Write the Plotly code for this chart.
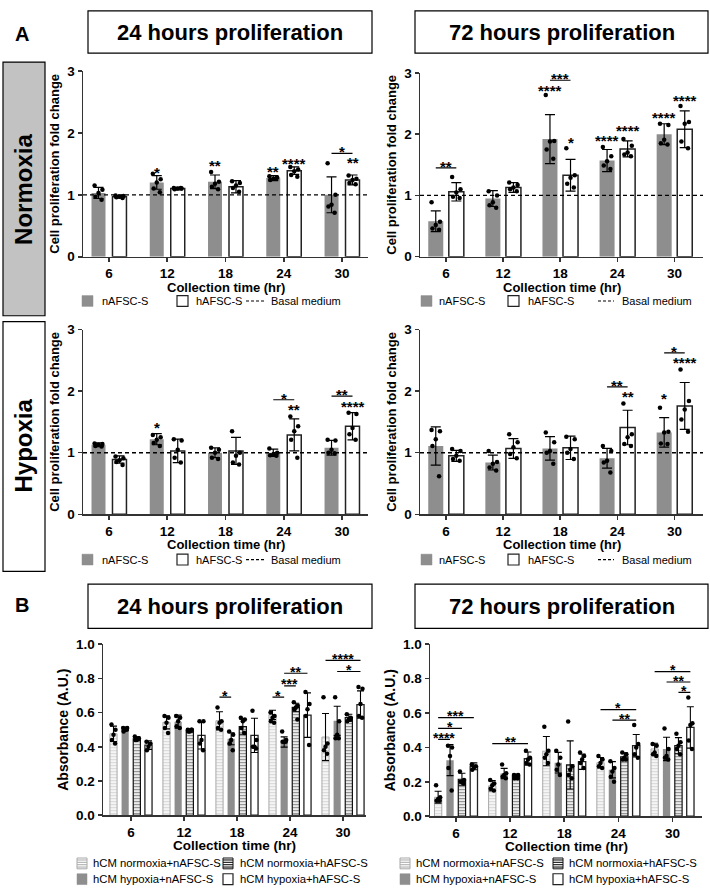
import plotly.graph_objects as go

W, H = 710, 896
FONT = "Liberation Sans, Arial, Helvetica, sans-serif"
AX = "#333333"
GRAY = "#8e8e8e"

categories = ["6", "12", "18", "24", "30"]
basal_medium = 1.0
A_series = ["nAFSC-S", "hAFSC-S"]
B_series = ["hCM normoxia+nAFSC-S", "hCM hypoxia+nAFSC-S",
            "hCM normoxia+hAFSC-S", "hCM hypoxia+hAFSC-S"]

# ---------------- Panel A : Normoxia, 24 h ----------------
norm24_n_mean = [1.03, 1.20, 1.21, 1.27, 1.00]
norm24_n_sd = [0.09, 0.11, 0.11, 0.04, 0.29]
norm24_n_pts = [[1.15, 1.08, 1.03, 0.97, 0.92], [1.34, 1.25, 1.20, 1.10, 1.04],
                [1.37, 1.21, 1.18, 1.13, 1.09], [1.30, 1.28, 1.26, 1.24, 1.27],
                [1.51, 1.00, 0.84, 0.81, 0.71]]
norm24_h_mean = [0.97, 1.10, 1.13, 1.39, 1.24]
norm24_h_sd = [0.02, 0.02, 0.10, 0.06, 0.08]
norm24_h_pts = [[0.99, 0.98, 0.97, 0.96, 0.95], [1.11, 1.10, 1.10, 1.09, 1.11],
                [1.22, 1.19, 1.15, 1.11, 1.05], [1.45, 1.41, 1.38, 1.32, 1.29],
                [1.31, 1.26, 1.24, 1.19, 1.17]]
norm24_stars = [(0, 1, 1.41, "*"), (0, 2, 1.52, "**"), (0, 3, 1.43, "**"),
                (1, 3, 1.56, "****"), (1, 4, 1.57, "**")]
norm24_brackets = [(4, 0, 1, 1.67, "*")]

# ---------------- Panel A : Normoxia, 72 h ----------------
norm72_n_mean = [0.58, 0.95, 1.92, 1.57, 2.00]
norm72_n_sd = [0.17, 0.13, 0.40, 0.18, 0.17]
norm72_n_pts = [[0.89, 0.57, 0.52, 0.46, 0.44], [1.07, 1.00, 0.89, 0.84, 0.80],
                [2.64, 1.89, 1.88, 1.75, 1.60], [1.79, 1.64, 1.56, 1.49, 1.43],
                [2.17, 2.15, 1.91, 1.85, 1.83]]
norm72_h_mean = [1.06, 1.13, 1.33, 1.76, 2.08]
norm72_h_sd = [0.15, 0.08, 0.26, 0.13, 0.30]
norm72_h_pts = [[1.30, 1.10, 1.05, 0.98, 0.96], [1.21, 1.17, 1.13, 1.10, 1.07],
                [1.77, 1.33, 1.29, 1.19, 1.13], [1.92, 1.81, 1.70, 1.67, 1.64],
                [2.46, 2.20, 2.17, 1.88, 1.77]]
norm72_stars = [(0, 2, 2.77, "****"), (0, 3, 1.95, "****"), (0, 4, 2.33, "****"),
                (1, 2, 1.92, "*"), (1, 3, 2.12, "****"), (1, 4, 2.60, "****")]
norm72_brackets = [(0, 0, 1, 1.45, "**"), (2, 0, 1, 2.88, "***")]

# ---------------- Panel A : Hypoxia, 24 h ----------------
hyp24_n_mean = [1.13, 1.22, 1.00, 1.00, 1.08]
hyp24_n_sd = [0.03, 0.09, 0.08, 0.06, 0.12]
hyp24_n_pts = [[1.15, 1.14, 1.13, 1.11, 1.10], [1.29, 1.25, 1.21, 1.16, 1.11],
               [1.08, 1.05, 1.00, 0.92, 0.90], [1.07, 1.00, 0.97, 0.96, 0.95],
               [1.21, 1.20, 1.05, 1.00, 0.99]]
hyp24_h_mean = [0.89, 1.03, 1.03, 1.29, 1.43]
hyp24_h_sd = [0.06, 0.19, 0.22, 0.26, 0.22]
hyp24_h_pts = [[0.94, 0.91, 0.88, 0.85, 0.80], [1.22, 1.20, 1.05, 0.92, 0.84],
               [1.35, 1.00, 0.95, 0.84, 0.81], [1.59, 1.43, 1.35, 1.21, 0.92],
               [1.65, 1.63, 1.40, 1.30, 1.21]]
hyp24_stars = [(0, 1, 1.47, "*"), (1, 3, 1.75, "**"), (1, 4, 1.81, "****")]
hyp24_brackets = [(3, 0, 1, 1.86, "*"), (4, 0, 1, 1.92, "**")]

# ---------------- Panel A : Hypoxia, 72 h ----------------
hyp72_n_mean = [1.11, 0.84, 1.07, 0.91, 1.33]
hyp72_n_sd = [0.31, 0.12, 0.19, 0.16, 0.24]
hyp72_n_pts = [[1.37, 1.35, 1.22, 1.11, 0.62], [1.03, 0.85, 0.82, 0.76, 0.71],
               [1.33, 1.17, 1.03, 1.00, 0.82], [1.11, 1.03, 0.87, 0.84, 0.68],
               [1.73, 1.34, 1.33, 1.15, 1.14]]
hyp72_h_mean = [0.95, 1.07, 1.08, 1.41, 1.76]
hyp72_h_sd = [0.09, 0.16, 0.19, 0.28, 0.38]
hyp72_h_pts = [[1.06, 1.03, 0.95, 0.90, 0.87], [1.30, 1.17, 1.09, 0.98, 0.91],
               [1.26, 1.22, 1.06, 1.00, 0.90], [1.80, 1.30, 1.25, 1.14, 1.11],
               [2.35, 1.84, 1.70, 1.54, 1.34]]
hyp72_stars = [(0, 4, 1.93, "*"), (1, 3, 1.97, "**"), (1, 4, 2.51, "****")]
hyp72_brackets = [(3, 0, 1, 2.07, "**"), (4, 0, 1, 2.62, "*")]

# ---------------- Panel B : 24 h ----------------
b24_s1_mean = [0.476, 0.543, 0.552, 0.587, 0.457]
b24_s1_sd = [0.045, 0.038, 0.053, 0.027, 0.138]
b24_s1_pts = [[0.53, 0.50, 0.47, 0.44, 0.42], [0.58, 0.57, 0.54, 0.51, 0.48],
              [0.63, 0.55, 0.54, 0.51, 0.50], [0.60, 0.58, 0.57, 0.55, 0.54],
              [0.69, 0.42, 0.40, 0.38, 0.36]]
b24_s2_mean = [0.505, 0.547, 0.447, 0.428, 0.552]
b24_s2_sd = [0.010, 0.038, 0.035, 0.030, 0.085]
b24_s2_pts = [[0.51, 0.51, 0.50, 0.49, 0.50], [0.58, 0.57, 0.55, 0.52, 0.51],
              [0.49, 0.47, 0.44, 0.42, 0.38], [0.49, 0.44, 0.43, 0.43, 0.43],
              [0.69, 0.55, 0.47, 0.45, 0.45]]
b24_s3_mean = [0.447, 0.495, 0.518, 0.630, 0.570]
b24_s3_sd = [0.010, 0.010, 0.045, 0.025, 0.020]
b24_s3_pts = [[0.46, 0.45, 0.44, 0.44, 0.45], [0.50, 0.50, 0.49, 0.49, 0.50],
              [0.57, 0.56, 0.55, 0.51, 0.48], [0.66, 0.64, 0.63, 0.62, 0.56],
              [0.59, 0.57, 0.56, 0.55, 0.56]]
b24_s4_mean = [0.410, 0.467, 0.467, 0.585, 0.647]
b24_s4_sd = [0.025, 0.080, 0.100, 0.130, 0.080]
b24_s4_pts = [[0.43, 0.42, 0.40, 0.38], [0.55, 0.55, 0.44, 0.42, 0.38],
              [0.61, 0.44, 0.40, 0.40, 0.39], [0.72, 0.65, 0.62, 0.58, 0.41],
              [0.75, 0.74, 0.65, 0.58, 0.57]]
b24_brackets = [(2, 0, 1, 0.69, "*"), (3, 0, 1, 0.69, "*"), (3, 1, 2, 0.756, "***"),
                (3, 1, 3, 0.83, "**"), (4, 0, 3, 0.905, "****"), (4, 1, 3, 0.84, "*")]

# ---------------- Panel B : 72 h ----------------
b72_s1_mean = [0.110, 0.177, 0.378, 0.311, 0.391]
b72_s1_sd = [0.035, 0.030, 0.085, 0.030, 0.033]
b72_s1_pts = [[0.18, 0.11, 0.10, 0.09, 0.09], [0.21, 0.19, 0.18, 0.16, 0.15],
              [0.52, 0.38, 0.36, 0.34, 0.31], [0.35, 0.33, 0.31, 0.29, 0.28],
              [0.42, 0.41, 0.37, 0.36, 0.35]]
b72_s2_mean = [0.326, 0.248, 0.311, 0.270, 0.391]
b72_s2_sd = [0.090, 0.030, 0.060, 0.047, 0.068]
b72_s2_pts = [[0.41, 0.40, 0.35, 0.28, 0.15], [0.30, 0.25, 0.24, 0.23, 0.22],
              [0.38, 0.34, 0.30, 0.27, 0.24], [0.32, 0.28, 0.26, 0.23, 0.20],
              [0.51, 0.39, 0.35, 0.34, 0.33]]
b72_s3_mean = [0.215, 0.233, 0.298, 0.345, 0.410]
b72_s3_sd = [0.035, 0.012, 0.140, 0.023, 0.047]
b72_s3_pts = [[0.26, 0.21, 0.20, 0.20, 0.19], [0.24, 0.24, 0.23, 0.22, 0.22],
              [0.55, 0.29, 0.27, 0.24, 0.22], [0.37, 0.36, 0.34, 0.33, 0.33],
              [0.48, 0.43, 0.41, 0.39, 0.36]]
b72_s4_mean = [0.290, 0.335, 0.317, 0.410, 0.516]
b72_s4_sd = [0.020, 0.038, 0.045, 0.065, 0.120]
b72_s4_pts = [[0.30, 0.29, 0.28, 0.27], [0.38, 0.34, 0.33, 0.31, 0.30],
              [0.37, 0.35, 0.33, 0.31, 0.28], [0.53, 0.42, 0.40, 0.36, 0.34],
              [0.69, 0.54, 0.53, 0.44, 0.39]]
b72_brackets = [(0, 0, 1, 0.447, "****"), (0, 0, 2, 0.51, "*"), (0, 0, 3, 0.573, "***"),
                (1, 0, 3, 0.422, "**"), (3, 0, 3, 0.62, "*"), (3, 1, 3, 0.558, "**"),
                (4, 0, 3, 0.84, "*"), (4, 1, 3, 0.78, "**"), (4, 2, 3, 0.72, "*")]

JITTER = [-0.28, 0.28, 0.0, -0.22, 0.22]

fig = go.Figure()
layout_axes = {}
shapes = []
annots = []


def px(x):
    return x / W


def py(y):
    return 1 - y / H


def text(x, y, t, size, xanchor="center", angle=0, bold=False):
    annots.append(dict(x=px(x), y=py(y), xref="paper", yref="paper",
                       text=f"<b>{t}</b>" if bold else t, showarrow=False,
                       xanchor=xanchor, yanchor="middle", textangle=angle,
                       font=dict(family=FONT, size=size, color="black")))


def refs(n):
    return ("x" if n == 1 else f"x{n}"), ("y" if n == 1 else f"y{n}")


def add_axes(n, xd, yd, xr, yr, ytickvals, ytickfmt, ytitle, ytsize, xtsize, ticksize, xt_gap):
    xref, yref = refs(n)
    key = "" if n == 1 else str(n)
    common = dict(showline=True, linecolor=AX, linewidth=1.5, ticks="outside",
                  ticklen=4, tickwidth=1.5, tickcolor=AX, showgrid=False,
                  zeroline=False, fixedrange=True,
                  tickfont=dict(family=FONT, size=ticksize, color="black", weight="bold"))
    layout_axes["xaxis" + key] = dict(
        domain=[xd[0] / W, xd[1] / W], range=list(xr), anchor=yref,
        tickmode="array", tickvals=list(range(len(categories))), ticktext=categories,
        **common)
    layout_axes["yaxis" + key] = dict(
        domain=[1 - yd[1] / H, 1 - yd[0] / H], range=list(yr), anchor=xref,
        tickmode="array", tickvals=ytickvals, tickformat=ytickfmt,
        title=dict(text=f"<b>{ytitle}</b>",
                   font=dict(family=FONT, size=ytsize, color="black"), standoff=4),
        **common)
    text((xd[0] + xd[1]) / 2, yd[1] + xt_gap, "Collection time (hr)", xtsize, bold=True)
    return xref, yref


def add_points(xref, yref, pts, off, bw):
    xs, ys = [], []
    for i, vals in enumerate(pts):
        for k, v in enumerate(vals):
            xs.append(i + off + JITTER[k % len(JITTER)] * bw)
            ys.append(v)
    fig.add_trace(go.Scatter(x=xs, y=ys, mode="markers", xaxis=xref, yaxis=yref,
                             marker=dict(size=4.5, color="black"), hoverinfo="skip",
                             showlegend=False, cliponaxis=False))


def star(xref, yref, x, y, t, yshift, size):
    annots.append(dict(x=x, y=y, xref=xref, yref=yref, text=f"<b>{t}</b>",
                       showarrow=False, yanchor="middle", xanchor="center",
                       yshift=yshift, font=dict(family=FONT, size=size, color="black")))


def bracket(xref, yref, xa, xb, y, t, size):
    shapes.append(dict(type="line", xref=xref, yref=yref, x0=xa, x1=xb, y0=y, y1=y,
                       line=dict(color="black", width=1.2)))
    star(xref, yref, (xa + xb) / 2, y, t, 1.5, size)


# ---------------- Panel A axes ----------------
A_panels = [
    (1, (83, 368), (65, 254), (-0.446, 4.446), 0.24, 0.18,
     norm24_n_mean, norm24_n_sd, norm24_n_pts, norm24_h_mean, norm24_h_sd, norm24_h_pts,
     norm24_stars, norm24_brackets),
    (2, (420, 703), (67, 254), (-0.456, 4.5), 0.263, 0.18,
     norm72_n_mean, norm72_n_sd, norm72_n_pts, norm72_h_mean, norm72_h_sd, norm72_h_pts,
     norm72_stars, norm72_brackets),
    (3, (83, 368), (328, 516), (-0.446, 4.446), 0.24, 0.18,
     hyp24_n_mean, hyp24_n_sd, hyp24_n_pts, hyp24_h_mean, hyp24_h_sd, hyp24_h_pts,
     hyp24_stars, hyp24_brackets),
    (4, (420, 703), (328, 516), (-0.456, 4.5), 0.263, 0.18,
     hyp72_n_mean, hyp72_n_sd, hyp72_n_pts, hyp72_h_mean, hyp72_h_sd, hyp72_h_pts,
     hyp72_stars, hyp72_brackets),
]

for (n, xd, yd, xr, bw, off, gm, gs, gp, wm, ws, wp, stars, brs) in A_panels:
    xref, yref = add_axes(n, xd, yd, xr, (0, 3), [0, 1, 2, 3], "d",
                          "Cell proliferation fold change", 13, 13, 13.5, 31)
    offs = [-off, off]
    fig.add_trace(go.Bar(x=[i - off for i in range(len(categories))], y=gm, width=bw,
                         xaxis=xref, yaxis=yref, marker=dict(color=GRAY, line=dict(width=0)),
                         error_y=dict(type="data", array=gs, color="black", thickness=1.2, width=5),
                         showlegend=False, name=A_series[0]))
    fig.add_trace(go.Bar(x=[i + off for i in range(len(categories))], y=wm, width=bw,
                         xaxis=xref, yaxis=yref,
                         marker=dict(color="white", line=dict(color="#222222", width=1.5)),
                         error_y=dict(type="data", array=ws, color="black", thickness=1.2, width=5),
                         showlegend=False, name=A_series[1]))
    add_points(xref, yref, gp, -off, bw)
    add_points(xref, yref, wp, off, bw)
    shapes.append(dict(type="line", xref=f"{xref} domain", yref=yref, x0=0, x1=1,
                       y0=basal_medium, y1=basal_medium,
                       line=dict(color="black", width=1.3, dash="4px,3px")))
    for (s, g, y, t) in stars:
        star(xref, yref, g + offs[s], y, t, -3.3, 15)
    for (g, sa, sb, y, t) in brs:
        bracket(xref, yref, g + offs[sa], g + offs[sb], y, t, 15)

# ---------------- Panel B axes ----------------
B_styles = [
    dict(color="white", line=dict(color="#a8a8a8", width=1),
         pattern=dict(shape="-", fgcolor="#b0b0b0", bgcolor="white", size=3, solidity=0.5)),
    dict(color=GRAY, line=dict(width=0)),
    dict(color="white", line=dict(color="#111111", width=1.2),
         pattern=dict(shape="-", fgcolor="#111111", bgcolor="white", size=3, solidity=0.45)),
    dict(color="white", line=dict(color="#222222", width=1.3)),
]
B_offsets = [-0.33, -0.11, 0.11, 0.33]
B_panels = [
    (5, (103, 366), (648, 822), (-0.528, 4.434),
     [(b24_s1_mean, b24_s1_sd, b24_s1_pts), (b24_s2_mean, b24_s2_sd, b24_s2_pts),
      (b24_s3_mean, b24_s3_sd, b24_s3_pts), (b24_s4_mean, b24_s4_sd, b24_s4_pts)],
     b24_brackets),
    (6, (430, 702), (648, 823), (-0.48, 4.545),
     [(b72_s1_mean, b72_s1_sd, b72_s1_pts), (b72_s2_mean, b72_s2_sd, b72_s2_pts),
      (b72_s3_mean, b72_s3_sd, b72_s3_pts), (b72_s4_mean, b72_s4_sd, b72_s4_pts)],
     b72_brackets),
]
BW = 0.135
for (n, xd, yd, xr, series, brs) in B_panels:
    xref, yref = add_axes(n, xd, yd, xr, (0, 1.0), [0, 0.2, 0.4, 0.6, 0.8, 1.0], ".1f",
                          "Absorbance (A.U.)", 14, 13.5, 13.5, 31)
    for si, (m, sd, pts) in enumerate(series):
        fig.add_trace(go.Bar(x=[i + B_offsets[si] for i in range(len(categories))], y=m,
                             width=BW, xaxis=xref, yaxis=yref, marker=B_styles[si],
                             error_y=dict(type="data", array=sd, color="black",
                                          thickness=1.1, width=3.5),
                             showlegend=False, name=B_series[si]))
    for si, (m, sd, pts) in enumerate(series):
        add_points(xref, yref, pts, B_offsets[si], BW)
    for (g, sa, sb, y, t) in brs:
        bracket(xref, yref, g + B_offsets[sa], g + B_offsets[sb], y, t, 14)


# ---------------- decorations (paper/pixel coordinates) ----------------
def rect(x0, y0, x1, y1, fill="white", line="black", lw=1.2):
    shapes.append(dict(type="rect", xref="paper", yref="paper", x0=px(x0), x1=px(x1),
                       y0=py(y1), y1=py(y0), fillcolor=fill,
                       line=dict(color=line, width=lw), layer="above"))


# header boxes
for (y0, y1) in [(4, 47), (587, 632)]:
    rect(88, y0, 372, y1)
    rect(415, y0, 708, y1)
    text(230, (y0 + y1) / 2, "24 hours proliferation", 22, bold=True)
    text(561.5, (y0 + y1) / 2, "72 hours proliferation", 22, bold=True)
text(22, 27, "A", 20, bold=True)
text(22, 608, "B", 20, bold=True)

# side condition boxes
rect(3, 56, 45, 314, fill="#c2c2c2")
text(24, 186, "Normoxia", 24, angle=-90, bold=True)
rect(3, 320, 45, 574, fill="white")
text(24, 446, "Hypoxia", 24, angle=-90, bold=True)

# Panel A legends
for yc in [299, 562]:
    for (gx, tx1, wx, tx2, dx0, dx1, tx3) in [(82, 100, 177, 194, 246, 265, 269),
                                              (421, 437, 508, 526, 598, 614, 620)]:
        rect(gx, yc - 5.5, gx + 11, yc + 5.5, fill=GRAY, line=GRAY, lw=0.5)
        text(tx1, yc, A_series[0], 11, xanchor="left")
        rect(wx, yc - 5.5, wx + 11, yc + 5.5, fill="white", line="#222222", lw=1.2)
        text(tx2, yc, A_series[1], 11, xanchor="left")
        shapes.append(dict(type="line", xref="paper", yref="paper", x0=px(dx0), x1=px(dx1),
                           y0=py(yc), y1=py(yc), line=dict(color="black", width=1.2, dash="3px,2px")))
        text(tx3, yc, "Basal medium", 11, xanchor="left")


# Panel B legends
def stripe_swatch(x0, yc, col, border):
    rect(x0, yc - 5.5, x0 + 10, yc + 5.5, fill="white", line=border, lw=1)
    for k in range(4):
        yy = yc - 3.5 + k * 2.4
        shapes.append(dict(type="line", xref="paper", yref="paper", x0=px(x0), x1=px(x0 + 10),
                           y0=py(yy), y1=py(yy), line=dict(color=col, width=1.1)))


for (c1, t1, c2, t2) in [(77, 91, 223, 238), (400, 414, 553, 567)]:
    stripe_swatch(c1, 871, "#b0b0b0", "#a8a8a8")
    text(t1, 871, B_series[0], 11.3, xanchor="left")
    rect(c1, 887 - 5.5, c1 + 10, 887 + 5.5, fill=GRAY, line=GRAY, lw=0.5)
    text(t1, 887, B_series[1], 11.3, xanchor="left")
    stripe_swatch(c2, 871, "#111111", "#111111")
    text(t2, 871, B_series[2], 11.3, xanchor="left")
    rect(c2, 887 - 5.5, c2 + 10, 887 + 5.5, fill="white", line="#222222", lw=1.2)
    text(t2, 887, B_series[3], 11.3, xanchor="left")

fig.update_layout(
    width=W, height=H, margin=dict(l=0, r=0, t=0, b=0),
    paper_bgcolor="white", plot_bgcolor="white", barmode="overlay",
    showlegend=False, font=dict(family=FONT, color="black"),
    shapes=shapes, annotations=annots, **layout_axes)

fig.write_html("out.html", config={"displayModeBar": False, "staticPlot": True},
               post_script="document.documentElement.style.margin='0';"
                           "document.body.style.margin='0';"
                           "document.body.style.padding='0';"
                           "document.body.style.overflow='hidden';"
                           "document.documentElement.style.overflow='hidden';")
